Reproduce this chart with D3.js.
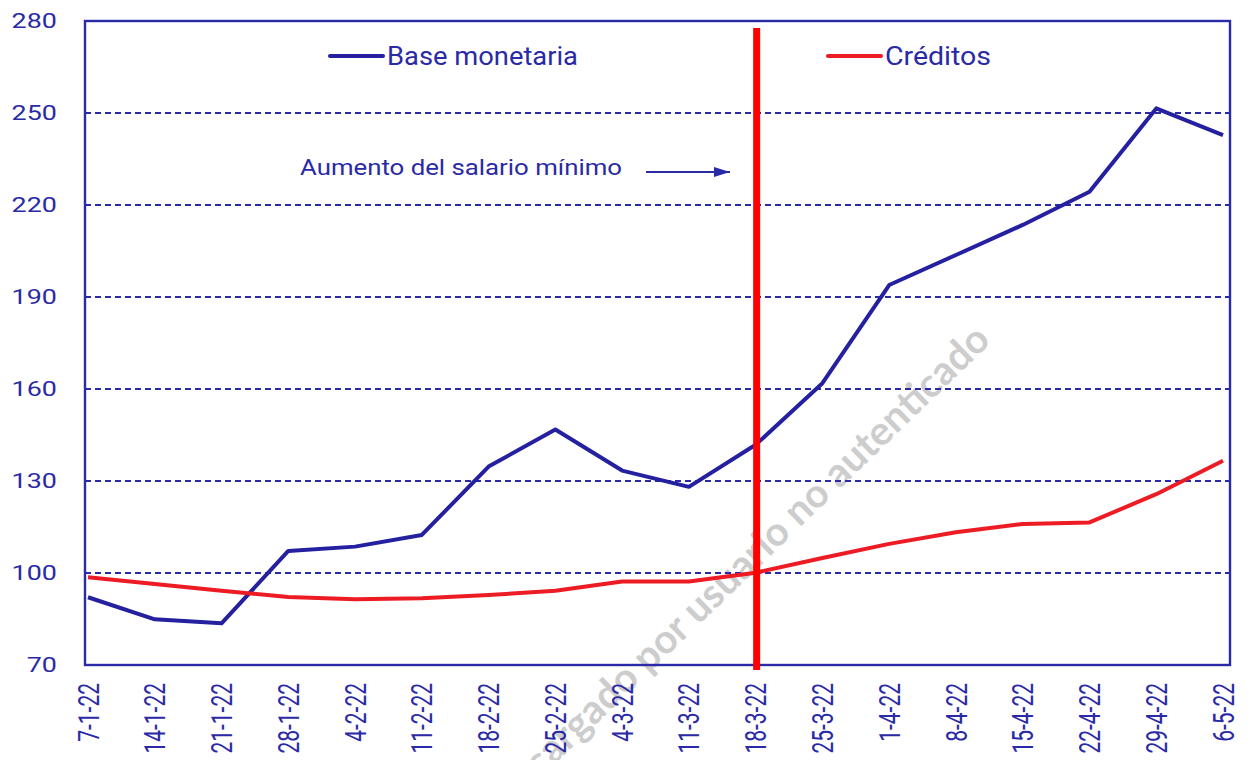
<!DOCTYPE html>
<html>
<head>
<meta charset="utf-8">
<script src="https://cdn.jsdelivr.net/npm/d3@7"></script>
<style>
  body { margin: 0; background: #fff; }
  svg { display: block; }
</style>
</head>
<body>
<svg id="chart" width="1251" height="760"></svg>
<script>
// datos
const fechas = ['7-1-22', '14-1-22', '21-1-22', '28-1-22', '4-2-22', '11-2-22', '18-2-22', '25-2-22', '4-3-22',
  '11-3-22', '18-3-22', '25-3-22', '1-4-22', '8-4-22', '15-4-22', '22-4-22', '29-4-22', '6-5-22']
const baseMonetaria = [92.1, 84.9, 83.6, 107.2, 108.6, 112.4, 134.7, 146.8, 133.4,
  128.1, 141.8, 161.9, 193.9, 203.7, 213.5, 224.3, 251.5, 242.8]
const creditos = [98.6, 96.4, 94.2, 92.2, 91.4, 91.8, 92.8, 94.2, 97.2,
  97.2, 100.1, 104.9, 109.5, 113.3, 116.0, 116.5, 125.7, 136.6]
const yTicks = [70, 100, 130, 160, 190, 220, 250, 280]
const series = [
  { name: 'Base monetaria', values: baseMonetaria, color: '#2420a0' },
  { name: 'Créditos', values: creditos, color: '#ed1c24' }
]
const eventoFecha = '18-3-22'
const nota = 'Aumento del salario mínimo'
const marcaAgua = 'Descargado por usuario no autenticado'

const azul = '#2b2aa6'
const plot = { left: 85, right: 1230, top: 21, bottom: 665 }

const svg = d3.select('#chart')

const x = d3.scalePoint().domain(fechas).range([88, 1223])
const y = d3.scaleLinear().domain([70, 280]).range([plot.bottom, plot.top])

// marca de agua (debajo de todo)
svg.append('text')
  .attr('transform', 'translate(992,342) rotate(-44)')
  .attr('text-anchor', 'end')
  .attr('font-family', 'Lato, sans-serif')
  .attr('font-weight', 'bold')
  .attr('font-size', 40)
  .attr('fill', '#cdcdcd')
  .text(marcaAgua)

// rejilla
svg.append('g')
  .selectAll('line')
  .data(yTicks.filter(d => d > 70 && d < 280))
  .join('line')
  .attr('x1', plot.left)
  .attr('x2', plot.right)
  .attr('y1', d => y(d))
  .attr('y2', d => y(d))
  .attr('stroke', azul)
  .attr('stroke-width', 2)
  .attr('stroke-dasharray', '6,4')

// eje y
const yAxis = svg.append('g')
  .attr('transform', `translate(${plot.left},0)`)
  .call(d3.axisLeft(y).tickValues(yTicks).tickSize(0).tickPadding(22))
yAxis.select('.domain').remove()
yAxis.selectAll('text')
  .attr('font-family', 'Roboto, sans-serif')
  .attr('font-size', 21)
  .attr('fill', azul)
  .attr('transform', 'scale(1.28,1)')

// etiquetas del eje x (verticales)
svg.append('g')
  .selectAll('text')
  .data(fechas)
  .join('text')
  .attr('transform', d => `translate(${x(d)},683) scale(1.4,1) rotate(-90)`)
  .attr('text-anchor', 'end')
  .attr('dy', '0.36em')
  .attr('font-family', 'Roboto, sans-serif')
  .attr('font-size', 21)
  .attr('fill', azul)
  .text(d => d)

// marco
svg.append('rect')
  .attr('x', plot.left)
  .attr('y', plot.top)
  .attr('width', plot.right - plot.left)
  .attr('height', plot.bottom - plot.top)
  .attr('fill', 'none')
  .attr('stroke', azul)
  .attr('stroke-width', 2.4)

// series
const line = d3.line()
  .x((d, i) => x(fechas[i]))
  .y(d => y(d))

svg.append('g')
  .selectAll('path')
  .data(series)
  .join('path')
  .attr('d', d => line(d.values))
  .attr('fill', 'none')
  .attr('stroke', d => d.color)
  .attr('stroke-width', 4)
  .attr('stroke-linejoin', 'round')

// línea vertical del evento
svg.append('line')
  .attr('x1', x(eventoFecha) + 1)
  .attr('x2', x(eventoFecha) + 1)
  .attr('y1', 28)
  .attr('y2', 670)
  .attr('stroke', '#ff0000')
  .attr('stroke-width', 7)

// leyenda
const legend = [
  { s: series[0], x: 330, w: 191 },
  { s: series[1], x: 828, w: 106 }
]
legend.forEach(l => {
  svg.append('line')
    .attr('x1', l.x)
    .attr('x2', l.x + 53)
    .attr('y1', 56)
    .attr('y2', 56)
    .attr('stroke', l.s.color)
    .attr('stroke-width', 4)
    .attr('stroke-linecap', 'round')
  svg.append('text')
    .attr('x', l.x + 57)
    .attr('y', 65)
    .attr('font-family', 'Roboto, sans-serif')
    .attr('font-size', 25)
    .attr('fill', azul)
    .attr('textLength', l.w)
    .attr('lengthAdjust', 'spacingAndGlyphs')
    .text(l.s.name)
})

// anotación
svg.append('text')
  .attr('x', 300)
  .attr('y', 175)
  .attr('font-family', 'Roboto, sans-serif')
  .attr('font-size', 22)
  .attr('fill', azul)
  .attr('textLength', 322)
  .attr('lengthAdjust', 'spacingAndGlyphs')
  .text(nota)

svg.append('defs').append('marker')
  .attr('id', 'flecha')
  .attr('viewBox', '0 0 16 10')
  .attr('refX', 16)
  .attr('refY', 5)
  .attr('markerWidth', 8)
  .attr('markerHeight', 5)
  .attr('markerUnits', 'strokeWidth')
  .attr('orient', 'auto')
  .append('path')
  .attr('d', 'M0,0L16,5L0,10Z')
  .attr('fill', azul)

svg.append('line')
  .attr('x1', 646)
  .attr('x2', 730)
  .attr('y1', 172)
  .attr('y2', 172)
  .attr('stroke', azul)
  .attr('stroke-width', 2)
  .attr('marker-end', 'url(#flecha)')
</script>
</body>
</html>
